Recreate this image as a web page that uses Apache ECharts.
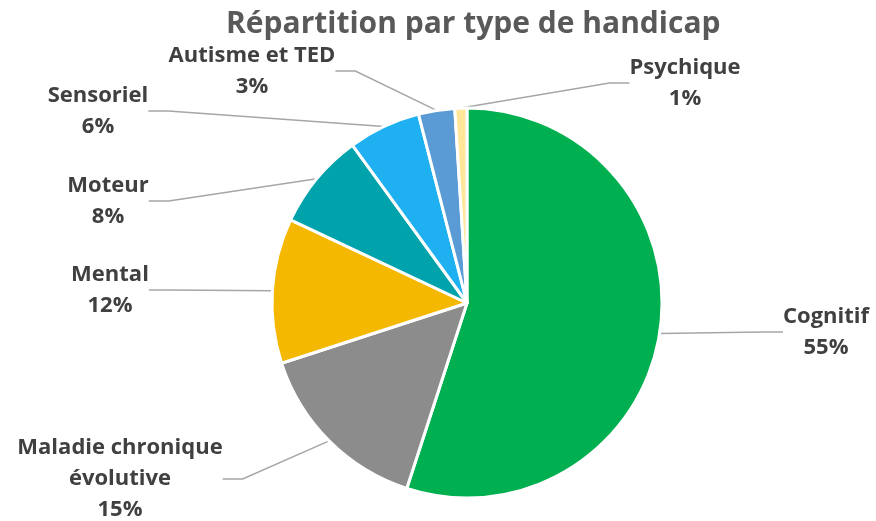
<!DOCTYPE html>
<html>
<head>
<meta charset="utf-8">
<script src="https://cdn.jsdelivr.net/npm/echarts@6/dist/echarts.min.js"></script>
<style>
  html, body { margin: 0; padding: 0; background: #fff; }
  #chart { width: 876px; height: 521px; }
</style>
</head>
<body>
<div id="chart"></div>
<script>
// données
const categories = ['Cognitif', 'Maladie chronique\névolutive', 'Mental', 'Moteur', 'Sensoriel', 'Autisme et TED', 'Psychique'];
const values = [55, 15, 12, 8, 6, 3, 1];
const colors = ['#00b050', '#8c8c8c', '#f5b800', '#00a2ab', '#1eb0f0', '#5b9bd5', '#ffe699'];
// centre des étiquettes (placement à la main)
const labelPos = [[826, 332], [120, 479], [110, 290], [108, 201], [98, 111], [252, 71], [685, 83]];

const myChart = echarts.init(document.getElementById('chart'));
myChart.setOption({
  animation: false,
  title: {
    text: 'Répartition par type de handicap',
    left: 221,
    top: 4,
    textStyle: {
      color: '#595959',
      fontSize: 30,
      fontWeight: 'bold',
      fontFamily: 'Open Sans'
    }
  },
  series: [
    {
      type: 'pie',
      center: [467, 303],
      radius: 195,
      startAngle: 90,
      clockwise: true,
      data: categories.map((c, i) => ({ name: c, value: values[i], itemStyle: { color: colors[i] } })),
      itemStyle: {
        borderColor: '#fff',
        borderWidth: 3
      },
      label: {
        show: true,
        formatter: '{b}\n{d}%',
        color: '#404040',
        fontSize: 22,
        fontWeight: 'bold',
        fontFamily: 'Open Sans',
        lineHeight: 31,
        align: 'center'
      },
      labelLine: {
        show: true,
        length: 20,
        length2: 20,
        lineStyle: { color: '#a6a6a6', width: 1.5 }
      },
      labelLayout: function (params) {
        const p = labelPos[params.dataIndex];
        return {
          x: p[0],
          y: p[1],
          align: 'center',
          verticalAlign: 'middle',
          moveOverlap: false
        };
      }
    }
  ]
});
window.onresize = myChart.resize;
</script>
</body>
</html>
